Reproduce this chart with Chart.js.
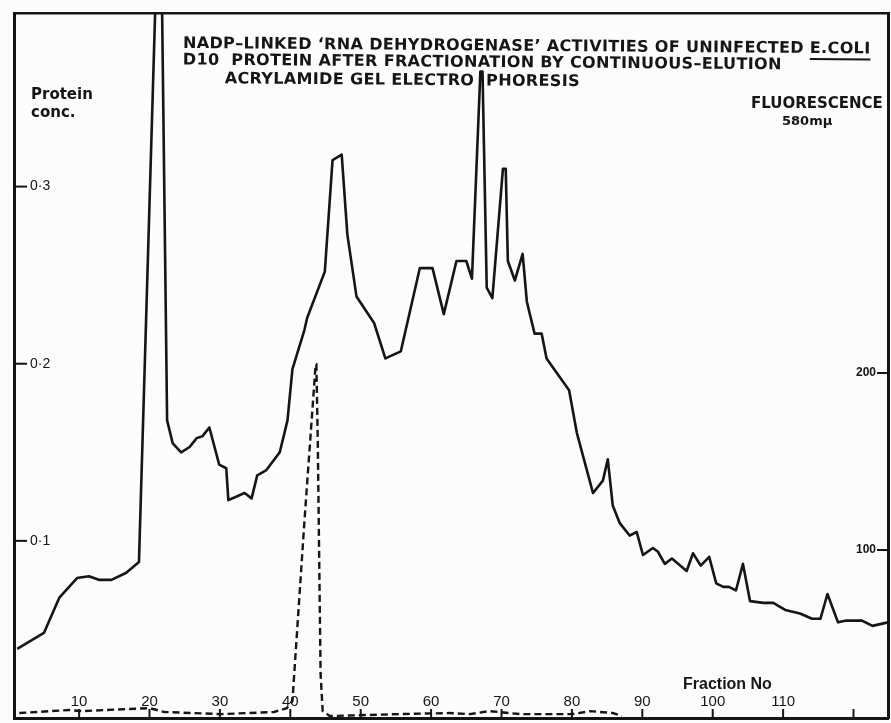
<!DOCTYPE html>
<html>
<head>
<meta charset="utf-8">
<script src="https://cdn.jsdelivr.net/npm/chart.js@4.4.1/dist/chart.umd.min.js"></script>
<style>
  html, body { margin: 0; padding: 0; background: #fcfcfc; }
  canvas { display: block; }
</style>
</head>
<body>
<canvas id="chart" width="891" height="723"></canvas>
<script>
// protein concentration (solid line)
const proteinFraction = [1.2, 5.0, 7.2, 9.7, 11.4, 12.8, 14.6, 16.7, 18.5, 21.5,
  22.5, 23.3, 24.5, 25.7, 26.7, 27.5, 28.5, 29.9, 30.9, 31.2,
  33.5, 34.5, 35.3, 36.6, 38.5, 39.6, 40.3, 42.0, 42.4, 44.9,
  46.0, 47.3, 48.1, 49.4, 51.9, 53.5, 55.7, 58.4, 60.2, 61.8,
  63.6, 65.0, 65.8, 67.0, 67.3, 67.9, 68.7, 70.2, 70.6, 70.9,
  71.9, 73.0, 73.6, 74.7, 75.7, 76.4, 79.6, 80.7, 83.0, 84.4,
  85.1, 85.8, 86.8, 88.2, 89.2, 90.1, 91.5, 92.2, 93.2, 94.2,
  96.3, 97.2, 98.3, 99.5, 100.5, 101.5, 102.3, 103.3, 104.3, 105.3,
  107.2, 108.6, 110.3, 112.4, 114.1, 115.3, 116.3, 117.8, 119.0, 121.2,
  122.7, 124.9];
const proteinConc = [0.039, 0.048, 0.068, 0.079, 0.080, 0.078, 0.078, 0.082, 0.088, 0.493,
  0.168, 0.155, 0.150, 0.153, 0.158, 0.159, 0.164, 0.143, 0.141, 0.123,
  0.127, 0.124, 0.137, 0.140, 0.150, 0.168, 0.197, 0.219, 0.226, 0.252,
  0.315, 0.318, 0.273, 0.238, 0.223, 0.203, 0.207, 0.254, 0.254, 0.228,
  0.258, 0.258, 0.248, 0.365, 0.365, 0.243, 0.237, 0.310, 0.310, 0.258,
  0.247, 0.262, 0.235, 0.217, 0.217, 0.203, 0.185, 0.161, 0.127, 0.134,
  0.146, 0.120, 0.110, 0.103, 0.105, 0.092, 0.096, 0.094, 0.087, 0.090,
  0.083, 0.093, 0.086, 0.091, 0.076, 0.074, 0.074, 0.072, 0.087, 0.066,
  0.065, 0.065, 0.061, 0.059, 0.056, 0.056, 0.070, 0.054, 0.055, 0.055,
  0.052, 0.054];

// fluorescence 580mu (dashed line)
const fluorFraction = [1.5, 8.6, 10.4, 20.0, 22.1, 30.2, 37.7, 39.5, 40.3, 42.0,
  43.6, 43.7, 43.9, 44.3, 44.6, 45.6, 55.5, 62.6, 65.5, 68.3,
  72.6, 80.1, 82.6, 85.8, 87.1];
const fluorValue = [7.9, 9.6, 9.0, 10.7, 8.5, 7.3, 8.5, 10.7, 14.7, 116,
  205, 205, 162, 30, 9.0, 6.2, 7.3, 7.9, 7.3, 9.0,
  7.3, 7.3, 9.0, 7.9, 6.2];

// axis ticks
const fractionTicks = [10, 20, 30, 40, 50, 60, 70, 80, 90, 100, 110, 120];
const fractionLabels = ['10', '20', '30', '40', '50', '60', '70', '80', '90', '100', '110', ''];
const proteinTicks = [0.1, 0.2, 0.3];
const proteinLabels = ['0·1', '0·2', '0·3'];
const fluorTicks = [100, 200];
const fluorLabels = ['100', '200'];

const titleLines = [
  'NADP–LINKED ‘RNA DEHYDROGENASE’ ACTIVITIES OF UNINFECTED E.COLI',
  'D10  PROTEIN AFTER FRACTIONATION BY CONTINUOUS–ELUTION',
  'ACRYLAMIDE GEL ELECTRO  PHORESIS'
];

const ink = '#151515';

function toPoints(xs, ys) {
  return xs.map((x, i) => ({ x: x, y: ys[i] }));
}

function setTicks(values) {
  return (scale) => { scale.ticks = values.map((v) => ({ value: v })); };
}

// axes take no room: the frame is the chart area itself
function noWidth(scale) {
  scale.width = 0;
  scale.paddingTop = 0;
  scale.paddingBottom = 0;
}
function noHeight(scale) {
  scale.height = 0;
  scale.paddingLeft = 0;
  scale.paddingRight = 0;
}

const paper = {
  id: 'paper',
  beforeDraw(chart) {
    const ctx = chart.ctx;
    ctx.save();
    ctx.fillStyle = '#fcfcfc';
    ctx.fillRect(0, 0, chart.width, chart.height);
    ctx.restore();
  },
  afterDraw(chart) {
    const ctx = chart.ctx;
    const area = chart.chartArea;
    const sx = chart.scales.x, sy = chart.scales.y, sy2 = chart.scales.y2;
    ctx.save();
    ctx.strokeStyle = ink;
    ctx.fillStyle = ink;
    ctx.lineWidth = 2;

    // inward tick marks
    sy.ticks.forEach((t) => {
      const py = sy.getPixelForValue(t.value);
      ctx.beginPath(); ctx.moveTo(area.left, py); ctx.lineTo(area.left + 13, py); ctx.stroke();
    });
    sy2.ticks.forEach((t) => {
      const py = sy2.getPixelForValue(t.value);
      ctx.beginPath(); ctx.moveTo(area.right - 11, py); ctx.lineTo(area.right, py); ctx.stroke();
    });
    ctx.font = '15px "Liberation Sans"';
    ctx.textAlign = 'center';
    ctx.textBaseline = 'alphabetic';
    sx.ticks.forEach((t, i) => {
      const px = sx.getPixelForValue(t.value);
      ctx.beginPath(); ctx.moveTo(px, area.bottom); ctx.lineTo(px, area.bottom - 9); ctx.stroke();
      ctx.fillText(fractionLabels[i], px, 706);
    });

    // axis names
    ctx.textAlign = 'left';
    ctx.font = 'bold 15px "DejaVu Sans"';
    ctx.fillText('Protein', 31, 99);
    ctx.fillText('conc.', 31, 117);
    ctx.fillText('FLUORESCENCE', 751, 108);
    ctx.font = 'bold 13px "DejaVu Sans"';
    ctx.fillText('580mμ', 782, 125);
    ctx.font = 'bold 16px "Liberation Sans"';
    ctx.fillText('Fraction No', 683, 689);

    // title, slightly tilted like the photo
    ctx.translate(183, 48);
    ctx.rotate(0.008);
    ctx.font = 'bold 16px "DejaVu Sans"';
    ctx.letterSpacing = '0.35px';
    ctx.fillText(titleLines[0], 0, 0);
    ctx.fillText(titleLines[1], 0, 16.5);
    ctx.fillText(titleLines[2], 42, 35);
    const w0 = ctx.measureText(titleLines[0]).width;
    const w1 = ctx.measureText('E.COLI').width;
    ctx.lineWidth = 1.8;
    ctx.beginPath(); ctx.moveTo(w0 - w1, 6); ctx.lineTo(w0, 6); ctx.stroke();
    ctx.restore();
  }
};

new Chart(document.getElementById('chart'), {
  type: 'line',
  data: {
    datasets: [{
      label: 'Protein conc.',
      data: toPoints(proteinFraction, proteinConc),
      yAxisID: 'y',
      borderColor: ink,
      borderWidth: 2.6,
      pointRadius: 0,
      tension: 0,
      borderJoinStyle: 'round'
    }, {
      label: 'Fluorescence 580mμ',
      data: toPoints(fluorFraction, fluorValue),
      yAxisID: 'y2',
      borderColor: ink,
      borderWidth: 2.4,
      borderDash: [7, 4],
      pointRadius: 0,
      tension: 0
    }]
  },
  options: {
    responsive: false,
    animation: false,
    devicePixelRatio: 1,
    layout: { padding: { left: 14, right: 3, top: 13, bottom: 5 } },
    plugins: { legend: { display: false }, tooltip: { enabled: false } },
    scales: {
      x: {
        type: 'linear', position: 'bottom', min: 0.75, max: 124.9,
        afterBuildTicks: setTicks(fractionTicks),
        afterFit: noHeight,
        ticks: { display: false },
        grid: { drawOnChartArea: false, drawTicks: false },
        border: { display: true, color: ink, width: 3 }
      },
      xTop: {
        type: 'linear', position: 'top', min: 0.75, max: 124.9,
        afterFit: noHeight,
        ticks: { display: false },
        grid: { drawOnChartArea: false, drawTicks: false },
        border: { display: true, color: ink, width: 2.5 }
      },
      y: {
        type: 'linear', position: 'left', min: 0, max: 0.398,
        afterBuildTicks: setTicks(proteinTicks),
        afterFit: noWidth,
        ticks: {
          mirror: true, padding: 16, color: ink,
          font: { family: 'Liberation Sans', size: 14 },
          callback: (v, i) => proteinLabels[i]
        },
        grid: { drawOnChartArea: false, drawTicks: false },
        border: { display: true, color: ink, width: 3 }
      },
      y2: {
        type: 'linear', position: 'right', min: 5.1, max: 403.4,
        afterBuildTicks: setTicks(fluorTicks),
        afterFit: noWidth,
        ticks: {
          mirror: true, padding: -12, color: ink,
          font: { family: 'Liberation Sans', size: 12, weight: 'bold' },
          callback: (v, i) => fluorLabels[i]
        },
        grid: { drawOnChartArea: false, drawTicks: false },
        border: { display: true, color: ink, width: 3 }
      }
    }
  },
  plugins: [paper]
});
</script>
</body>
</html>
